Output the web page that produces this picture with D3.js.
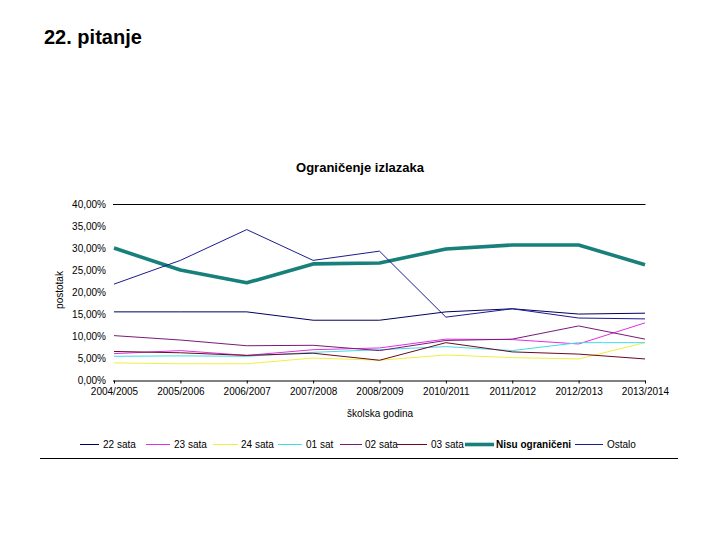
<!DOCTYPE html>
<html>
<head>
<meta charset="utf-8">
<script src="https://cdn.jsdelivr.net/npm/d3@7"></script>
<style>
  html, body { margin: 0; padding: 0; background: #fff; }
  svg { display: block; font-family: "Liberation Sans", Arial, sans-serif; }
</style>
</head>
<body>
<svg id="chart" width="720" height="540"></svg>
<script>
const categories = ["2004/2005","2005/2006","2006/2007","2007/2008","2008/2009","2010/2011","2011/2012","2012/2013","2013/2014"];
const yTicks = [0, 5, 10, 15, 20, 25, 30, 35, 40];
const seriesNames = ["22 sata","23 sata","24 sata","01 sat","02 sata","03 sata","Nisu ograničeni","Ostalo"];
const s22 = [15.6, 15.6, 15.6, 13.7, 13.7, 15.6, 16.3, 15.1, 15.3];
const s23 = [6.1, 6.8, 5.7, 7.0, 7.4, 9.4, 9.3, 8.3, 13.1];
const s24 = [4.0, 3.8, 3.8, 5.1, 4.6, 5.8, 5.2, 4.9, 8.6];
const s01 = [5.5, 5.6, 5.5, 6.4, 7.0, 7.7, 6.8, 8.6, 8.6];
const s02 = [10.2, 9.2, 7.9, 8.0, 6.8, 9.1, 9.4, 12.4, 9.4];
const s03 = [6.6, 6.3, 5.7, 6.2, 4.6, 8.6, 6.5, 6.0, 4.9];
const sNisu = [30.1, 25.1, 22.2, 26.5, 26.7, 29.9, 30.8, 30.8, 26.3];
const sOstalo = [21.9, 27.3, 34.3, 27.3, 29.4, 14.4, 16.3, 14.2, 14.0];
const allSeries = [s22, s23, s24, s01, s02, s03, sNisu, sOstalo];

const colors = ["#000060", "#E030E0", "#F2EE40", "#40DDE6", "#7A1A7A", "#6A0A20", "#17807A", "#1C1C8C"];
const widths = [1, 1, 1, 1, 1, 1, 3.6, 1];

const svg = d3.select("#chart");

// Page title
svg.append("text").attr("x", 44).attr("y", 44)
  .attr("font-size", 20).attr("font-weight", "bold").attr("fill", "#000")
  .text("22. pitanje");

const x = d3.scalePoint().domain(categories).range([114, 645]);
const y = d3.scaleLinear().domain([0, 40]).range([380.5, 204.5]);

// chart title
svg.append("text").attr("x", 360).attr("y", 172).attr("text-anchor", "middle")
  .attr("font-size", 13).attr("font-weight", "bold").text("Ograničenje izlazaka");

// top gridline at 40%
svg.append("line").attr("x1", 113).attr("x2", 645.5)
  .attr("y1", y(40)).attr("y2", y(40)).attr("stroke", "#000").attr("stroke-width", 1);

// y tick labels
const fmt = v => v.toFixed(2).replace(".", ",") + "%";
svg.append("g").selectAll("text").data(yTicks).join("text")
  .attr("x", 106).attr("y", d => y(d) + 3.5).attr("text-anchor", "end")
  .attr("font-size", 10).attr("fill", "#000").text(fmt);

// x axis
const xAxis = d3.axisBottom(x).tickSize(3).tickSizeOuter(0).tickPadding(4);
const gx = svg.append("g").attr("transform", `translate(0,${y(0)})`).call(xAxis);
gx.select(".domain").attr("d", `M113,0.5H645.5`).attr("stroke", "#000");
gx.selectAll(".tick line").attr("stroke", "#000");
gx.selectAll(".tick text").attr("font-size", 10).attr("fill", "#000")
  .attr("font-family", '"Liberation Sans", Arial, sans-serif');

// axis titles
svg.append("text").attr("x", 380).attr("y", 417).attr("text-anchor", "middle")
  .attr("font-size", 10).text("školska godina");
svg.append("text").attr("transform", "translate(63,290) rotate(-90)")
  .attr("text-anchor", "middle").attr("font-size", 10).text("postotak");

// lines
const line = d3.line().x((d, i) => x(categories[i])).y(d => y(d));
svg.append("g").selectAll("path").data(allSeries).join("path")
  .attr("d", d => line(d)).attr("fill", "none")
  .attr("stroke", (d, i) => colors[i]).attr("stroke-width", (d, i) => widths[i])
  .attr("stroke-linejoin", "round");

// legend
const legendPos = [
  {lx: 80, lw: 19, tx: 103},
  {lx: 146, lw: 24, tx: 174},
  {lx: 213, lw: 25, tx: 241},
  {lx: 278, lw: 24, tx: 306},
  {lx: 340, lw: 22, tx: 365},
  {lx: 397, lw: 30, tx: 431},
  {lx: 465, lw: 29, tx: 496},
  {lx: 575, lw: 28, tx: 607}
];
const lg = svg.append("g");
seriesNames.forEach((n, i) => {
  const p = legendPos[i];
  lg.append("line").attr("x1", p.lx).attr("x2", p.lx + p.lw).attr("y1", 444.5).attr("y2", 444.5)
    .attr("stroke", colors[i]).attr("stroke-width", widths[i]);
  lg.append("text").attr("x", p.tx).attr("y", 448).attr("font-size", 10)
    .attr("font-weight", i === 6 ? "bold" : "normal").text(n);
});

// bottom rule
svg.append("line").attr("x1", 40).attr("x2", 678).attr("y1", 458.5).attr("y2", 458.5)
  .attr("stroke", "#000").attr("stroke-width", 1);
</script>
</body>
</html>
